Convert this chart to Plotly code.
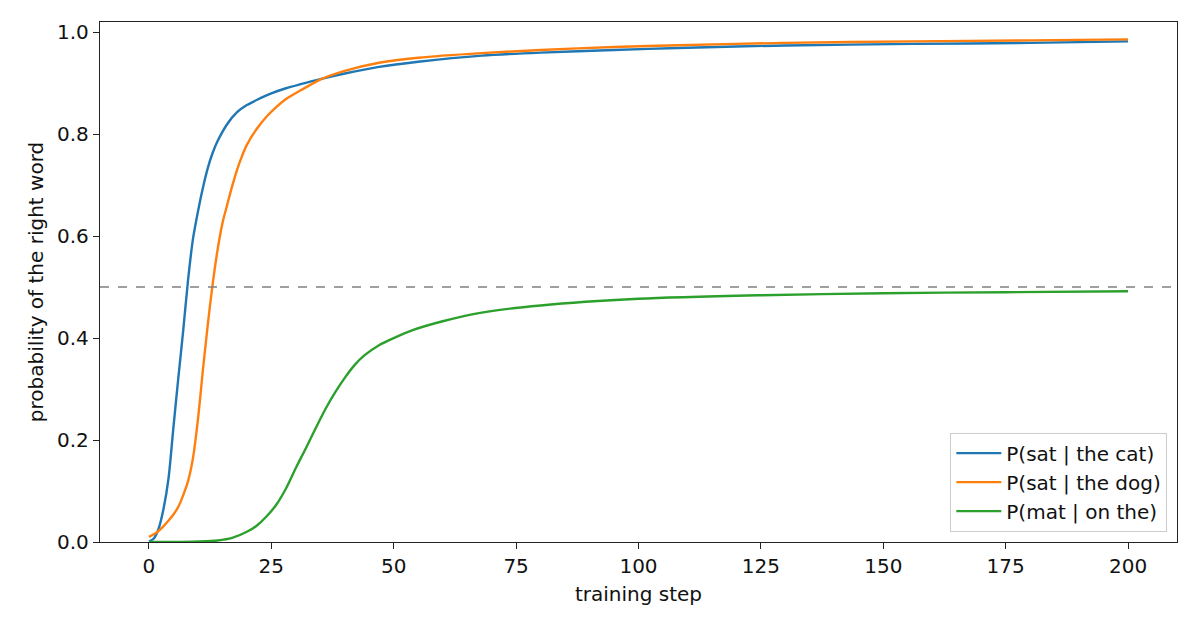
import plotly.graph_objects as go

# values
cat_steps = [0, 1, 2, 3, 4, 5, 6, 7, 8, 9, 10, 11, 12, 13, 14, 16, 18, 20, 22, 25, 28,
             31, 35, 40, 47, 55, 68, 80, 95, 108, 130, 156, 180, 200]
cat_prob = [0.001, 0.007, 0.027, 0.066, 0.125, 0.225, 0.322, 0.415, 0.515, 0.595, 0.648,
            0.694, 0.733, 0.763, 0.786, 0.82, 0.843, 0.857, 0.867, 0.880, 0.890,
            0.898, 0.908, 0.919, 0.932, 0.942, 0.954, 0.960, 0.965, 0.969, 0.974,
            0.977, 0.979, 0.982]

dog_steps = [0, 1, 2, 3, 4, 5, 6, 7, 8, 9, 10, 11, 12, 13, 14, 15, 16, 17, 18, 19, 20,
             22, 24, 26, 28, 31, 35, 40, 47, 55, 68, 80, 95, 108, 130, 156, 180, 200]
dog_prob = [0.010, 0.015, 0.022, 0.031, 0.042, 0.054, 0.069, 0.092, 0.120, 0.165, 0.24,
            0.335, 0.425, 0.505, 0.572, 0.625, 0.662, 0.698, 0.730, 0.757, 0.779,
            0.81, 0.834, 0.853, 0.869, 0.886, 0.907, 0.924, 0.940, 0.950, 0.959,
            0.965, 0.971, 0.9745, 0.979, 0.982, 0.984, 0.986]

mat_steps = [0, 5, 10, 14, 17, 20, 22, 24, 26, 28, 30, 32, 34, 36, 38, 40, 42, 44, 47,
             50, 54, 60, 68, 80, 100, 125, 150, 175, 200]
mat_prob = [0.0, 0.0, 0.001, 0.003, 0.008, 0.02, 0.032, 0.05, 0.073, 0.105, 0.145, 0.183,
            0.222, 0.260, 0.293, 0.322, 0.347, 0.366, 0.386, 0.400, 0.416, 0.433, 0.45,
            0.464, 0.477, 0.484, 0.488, 0.490, 0.492]

series = [
    ("P(sat | the cat)", cat_steps, cat_prob, "#1f77b4"),
    ("P(sat | the dog)", dog_steps, dog_prob, "#ff7f0e"),
    ("P(mat | on the)", mat_steps, mat_prob, "#2ca02c"),
]

fig = go.Figure()
for name, xs, ys, color in series:
    fig.add_trace(go.Scatter(x=xs, y=ys, name=name, mode="lines",
                             line=dict(color=color, width=2.4, shape="spline", smoothing=0.8)))

fig.add_hline(y=0.5, line=dict(color="gray", width=1.5, dash="dash"))

axis_style = dict(showline=True, linecolor="#222", linewidth=1.3, mirror=True,
                  ticks="outside", ticklen=6, tickcolor="#222", showgrid=False,
                  zeroline=False, tickfont=dict(size=20, color="#111"))

# page body has an 8px margin, so the margins are shifted by that
fig.update_xaxes(range=[-10, 210], tickvals=[0, 25, 50, 75, 100, 125, 150, 175, 200],
                 title=dict(text="training step", font=dict(size=20, color="#111"), standoff=9),
                 **axis_style)
fig.update_yaxes(range=[0, 1.02], tickvals=[0, 0.2, 0.4, 0.6, 0.8, 1.0], tickformat=".1f",
                 title=dict(text="probability of the right word", font=dict(size=20, color="#111"),
                            standoff=8),
                 **axis_style)

fig.update_layout(
    width=1200, height=630,
    margin=dict(l=92, r=31, t=14, b=96),
    paper_bgcolor="white", plot_bgcolor="white",
    font=dict(family="DejaVu Sans", size=20, color="#111"),
    legend=dict(x=0.991, y=0.02, xanchor="right", yanchor="bottom",
                bgcolor="rgba(255,255,255,0.8)", bordercolor="#ccc", borderwidth=1,
                font=dict(size=20), tracegroupgap=0, itemwidth=45),
    showlegend=True,
)

fig.write_html("out.html")
